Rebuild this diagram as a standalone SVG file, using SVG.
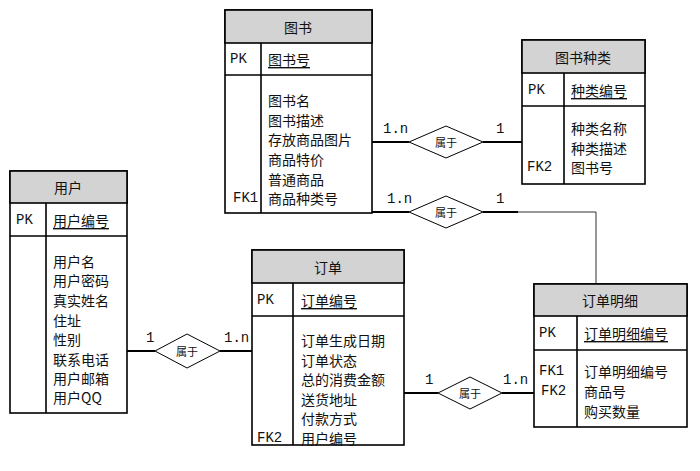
<svg xmlns="http://www.w3.org/2000/svg" width="700" height="471" viewBox="0 0 700 471">
<style>
.box{fill:#fff;stroke:#000;stroke-width:1.6}
.hdr{fill:#d3d3d3;stroke:#000;stroke-width:1.6}
.ln{stroke:#000;stroke-width:1.6;fill:none}
.rl{stroke:#000;stroke-width:2;fill:none}
.thin{stroke:#333;stroke-width:1;fill:none}
.dm{fill:#fff;stroke:#000;stroke-width:1}
text{font-family:"Noto Sans CJK SC","Liberation Sans",sans-serif;font-size:14px;fill:#111;dominant-baseline:central}
.k{font-family:"Liberation Mono","Noto Sans CJK SC",monospace;font-size:14px}
.c{text-anchor:middle}
.dt{font-size:11px;text-anchor:middle}
.u{text-decoration:underline}
</style>
<rect width="700" height="471" fill="#fff"/>
<g id="connectors">
  <line class="rl" x1="372" y1="142" x2="409" y2="142"/>
  <line class="rl" x1="483" y1="142" x2="522" y2="142"/>
  <line class="rl" x1="372" y1="212" x2="409" y2="212"/>
  <line class="rl" x1="483" y1="212" x2="518" y2="212"/>
  <polyline class="thin" points="518,212 596,212 596,284"/>
  <line class="rl" x1="127" y1="351" x2="155" y2="351"/>
  <line class="rl" x1="220" y1="351" x2="252" y2="351"/>
  <line class="rl" x1="404" y1="393" x2="438" y2="393"/>
  <line class="rl" x1="502" y1="393" x2="534" y2="393"/>
  <g id="rel1"><polygon class="dm" points="409,142 446,126 483,142 446,158"/><text class="dt" x="446" y="142">属于</text>
    <text class="k" x="383" y="129">1.n</text><text class="k" x="496" y="129">1</text></g>
  <g id="rel2"><polygon class="dm" points="409,212 446,196 483,212 446,228"/><text class="dt" x="446" y="212">属于</text>
    <text class="k" x="387" y="199">1.n</text><text class="k" x="496" y="199">1</text></g>
  <g id="rel3"><polygon class="dm" points="155,351 187,334 220,351 187,368"/><text class="dt" x="187" y="351">属于</text>
    <text class="k" x="146" y="338">1</text><text class="k" x="224" y="338">1.n</text></g>
  <g id="rel4"><polygon class="dm" points="438,393 470,377 502,393 470,409"/><text class="dt" x="470" y="393">属于</text>
    <text class="k" x="425" y="380">1</text><text class="k" x="503" y="380">1.n</text></g>
</g>
<g id="book">
  <rect class="box" x="225" y="10" width="147" height="203"/>
  <rect class="hdr" x="225" y="10" width="147" height="33"/>
  <line class="ln" x1="225" y1="75" x2="372" y2="75"/>
  <line class="ln" x1="261" y1="43" x2="261" y2="213"/>
  <text class="c" x="298" y="27">图书</text>
  <text class="k" x="230" y="59">PK</text>
  <text class="u" x="268" y="59">图书号</text>
  <text x="268" y="100">图书名</text>
  <text x="268" y="120">图书描述</text>
  <text x="268" y="139">存放商品图片</text>
  <text x="268" y="159">商品特价</text>
  <text x="268" y="179">普通商品</text>
  <text x="268" y="198">商品种类号</text>
  <text class="k" x="233" y="198">FK1</text>
</g>
<g id="category">
  <rect class="box" x="522" y="40" width="123" height="144"/>
  <rect class="hdr" x="522" y="40" width="123" height="33"/>
  <line class="ln" x1="522" y1="106" x2="645" y2="106"/>
  <line class="ln" x1="564" y1="73" x2="564" y2="184"/>
  <text class="c" x="583" y="57">图书种类</text>
  <text class="k" x="528" y="90">PK</text>
  <text class="u" x="571" y="90">种类编号</text>
  <text x="571" y="128">种类名称</text>
  <text x="571" y="148">种类描述</text>
  <text x="571" y="167">图书号</text>
  <text class="k" x="527" y="167">FK2</text>
</g>
<g id="user">
  <rect class="box" x="10" y="171" width="117" height="242"/>
  <rect class="hdr" x="10" y="171" width="117" height="32"/>
  <line class="ln" x1="10" y1="236" x2="127" y2="236"/>
  <line class="ln" x1="46" y1="203" x2="46" y2="413"/>
  <text class="c" x="68" y="187">用户</text>
  <text class="k" x="16" y="220">PK</text>
  <text class="u" x="53" y="220">用户编号</text>
  <text x="53" y="261">用户名</text>
  <text x="53" y="280">用户密码</text>
  <text x="53" y="300">真实姓名</text>
  <text x="53" y="320">住址</text>
  <text x="53" y="339">性别</text>
  <text x="53" y="359">联系电话</text>
  <text x="53" y="378">用户邮箱</text>
  <text x="53" y="397">用户QQ</text>
</g>
<g id="order">
  <rect class="box" x="252" y="250" width="152" height="195"/>
  <rect class="hdr" x="252" y="250" width="152" height="33"/>
  <line class="ln" x1="252" y1="316" x2="404" y2="316"/>
  <line class="ln" x1="293" y1="283" x2="293" y2="445"/>
  <text class="c" x="328" y="267">订单</text>
  <text class="k" x="257" y="300">PK</text>
  <text class="u" x="301" y="300">订单编号</text>
  <text x="301" y="340">订单生成日期</text>
  <text x="301" y="359.5">订单状态</text>
  <text x="301" y="379">总的消费金额</text>
  <text x="301" y="398.5">送货地址</text>
  <text x="301" y="418">付款方式</text>
  <text x="301" y="437.5">用户编号</text>
  <text class="k" x="257" y="437.5">FK2</text>
</g>
<g id="orderdetail">
  <rect class="box" x="534" y="284" width="153" height="143"/>
  <rect class="hdr" x="534" y="284" width="153" height="32"/>
  <line class="ln" x1="534" y1="350" x2="687" y2="350"/>
  <line class="ln" x1="577" y1="316" x2="577" y2="427"/>
  <text class="c" x="610" y="300">订单明细</text>
  <text class="k" x="539" y="333">PK</text>
  <text class="u" x="584" y="333">订单明细编号</text>
  <text x="584" y="371">订单明细编号</text>
  <text x="584" y="391">商品号</text>
  <text x="584" y="411">购买数量</text>
  <text class="k" x="539" y="371">FK1</text>
  <text class="k" x="541" y="391">FK2</text>
</g>
</svg>
